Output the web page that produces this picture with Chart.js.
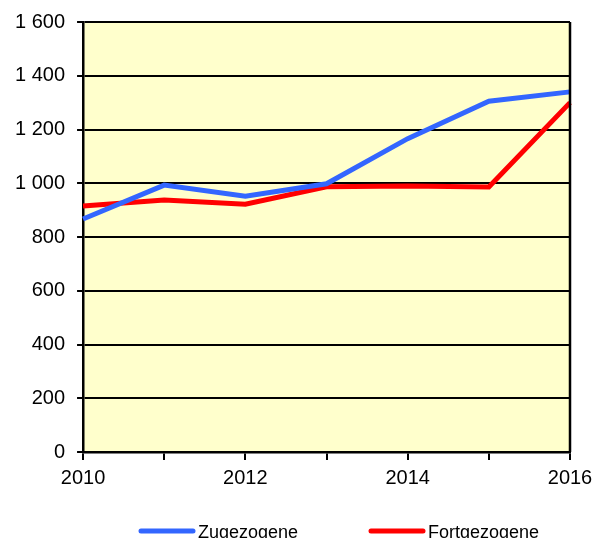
<!DOCTYPE html>
<html lang="de">
<head>
  <meta charset="UTF-8">
  <title>Zugezogene und Fortgezogene</title>
  <style>
    * { margin: 0; padding: 0; box-sizing: border-box; }
    html, body { width: 604px; height: 538px; overflow: hidden; background: #ffffff; }
    .wrap { position: relative; width: 604px; height: 538px; }
  </style>
  <script src="https://cdn.jsdelivr.net/npm/chart.js@4.4.1/dist/chart.umd.min.js"></script>
</head>
<body>
  <div class="wrap"><canvas id="chart"></canvas></div>

  <script>
    const years = ['2010', '2011', '2012', '2013', '2014', '2015', '2016'];
    const zugezogene = [867, 993, 952, 998, 1166, 1305, 1340];
    const fortgezogene = [915, 938, 922, 987, 990, 986, 1300];
    const yTicks = [0, 200, 400, 600, 800, 1000, 1200, 1400, 1600];

    const fontFamily = 'Arial, "Liberation Sans", sans-serif';

    // hellgelber Hintergrund + rechter Rahmen der Zeichenfläche
    const plotBg = {
      id: 'plotBg',
      beforeDraw(chart) {
        const a = chart.chartArea, c = chart.ctx;
        c.save();
        c.fillStyle = '#FFFFCC';
        c.fillRect(a.left, a.top, a.right - a.left, a.bottom - a.top);
        c.restore();
      },
      afterDatasetsDraw(chart) {
        const a = chart.chartArea, c = chart.ctx;
        c.save();
        c.strokeStyle = '#000';
        c.lineWidth = 2.5;
        c.beginPath();
        c.moveTo(a.right, a.top);
        c.lineTo(a.right, a.bottom);
        c.stroke();
        c.restore();
      }
    };

    // Legende unten wie im Original (weiter Abstand zwischen den Einträgen)
    const legendX = [139, 369];
    const bottomLegend = {
      id: 'bottomLegend',
      afterDraw(chart) {
        const c = chart.ctx;
        c.save();
        c.font = '18px ' + fontFamily;
        c.textBaseline = 'alphabetic';
        chart.data.datasets.forEach((ds, i) => {
          const x = legendX[i];
          c.strokeStyle = ds.borderColor;
          c.lineWidth = 5;
          c.lineCap = 'round';
          c.beginPath();
          c.moveTo(x + 2, 531);
          c.lineTo(x + 54, 531);
          c.stroke();
          c.fillStyle = '#000';
          c.fillText(ds.label, x + 59, 538);
        });
        c.restore();
      }
    };

    const font = { family: fontFamily, size: 20 };

    new Chart(document.getElementById('chart'), {
      type: 'line',
      data: {
        labels: years,
        datasets: [
          { label: 'Zugezogene', data: zugezogene, borderColor: '#3366FF', backgroundColor: '#3366FF', borderWidth: 5, pointRadius: 0, tension: 0 },
          { label: 'Fortgezogene', data: fortgezogene, borderColor: '#FF0000', backgroundColor: '#FF0000', borderWidth: 5, pointRadius: 0, tension: 0 }
        ]
      },
      options: {
        responsive: true,
        maintainAspectRatio: false,
        animation: false,
        layout: { padding: { left: 3, right: 34, top: 0, bottom: 42 } },
        scales: {
          x: {
            offset: false,
            grid: { drawOnChartArea: false, drawTicks: true, tickLength: 8, color: '#000', lineWidth: 2 },
            border: { color: '#000', width: 2.5 },
            ticks: {
              color: '#000', font: font, maxRotation: 0, autoSkip: false, padding: 6,
              callback: (v, i) => (i % 2 === 0 ? years[i] : '')
            }
          },
          y: {
            min: 0,
            max: 1600,
            afterBuildTicks: axis => { axis.ticks = yTicks.map(v => ({ value: v })); },
            grid: { color: '#000', lineWidth: 2, tickLength: 6 },
            border: { color: '#000', width: 2.5 },
            ticks: {
              color: '#000', font: { family: fontFamily, size: 20, lineHeight: 1 }, padding: 12,
              callback: v => String(v).replace(/\B(?=(\d{3})+(?!\d))/g, ' ')
            }
          }
        },
        plugins: {
          legend: { display: false },
          tooltip: { enabled: false }
        }
      },
      plugins: [plotBg, bottomLegend]
    });
  </script>
</body>
</html>
